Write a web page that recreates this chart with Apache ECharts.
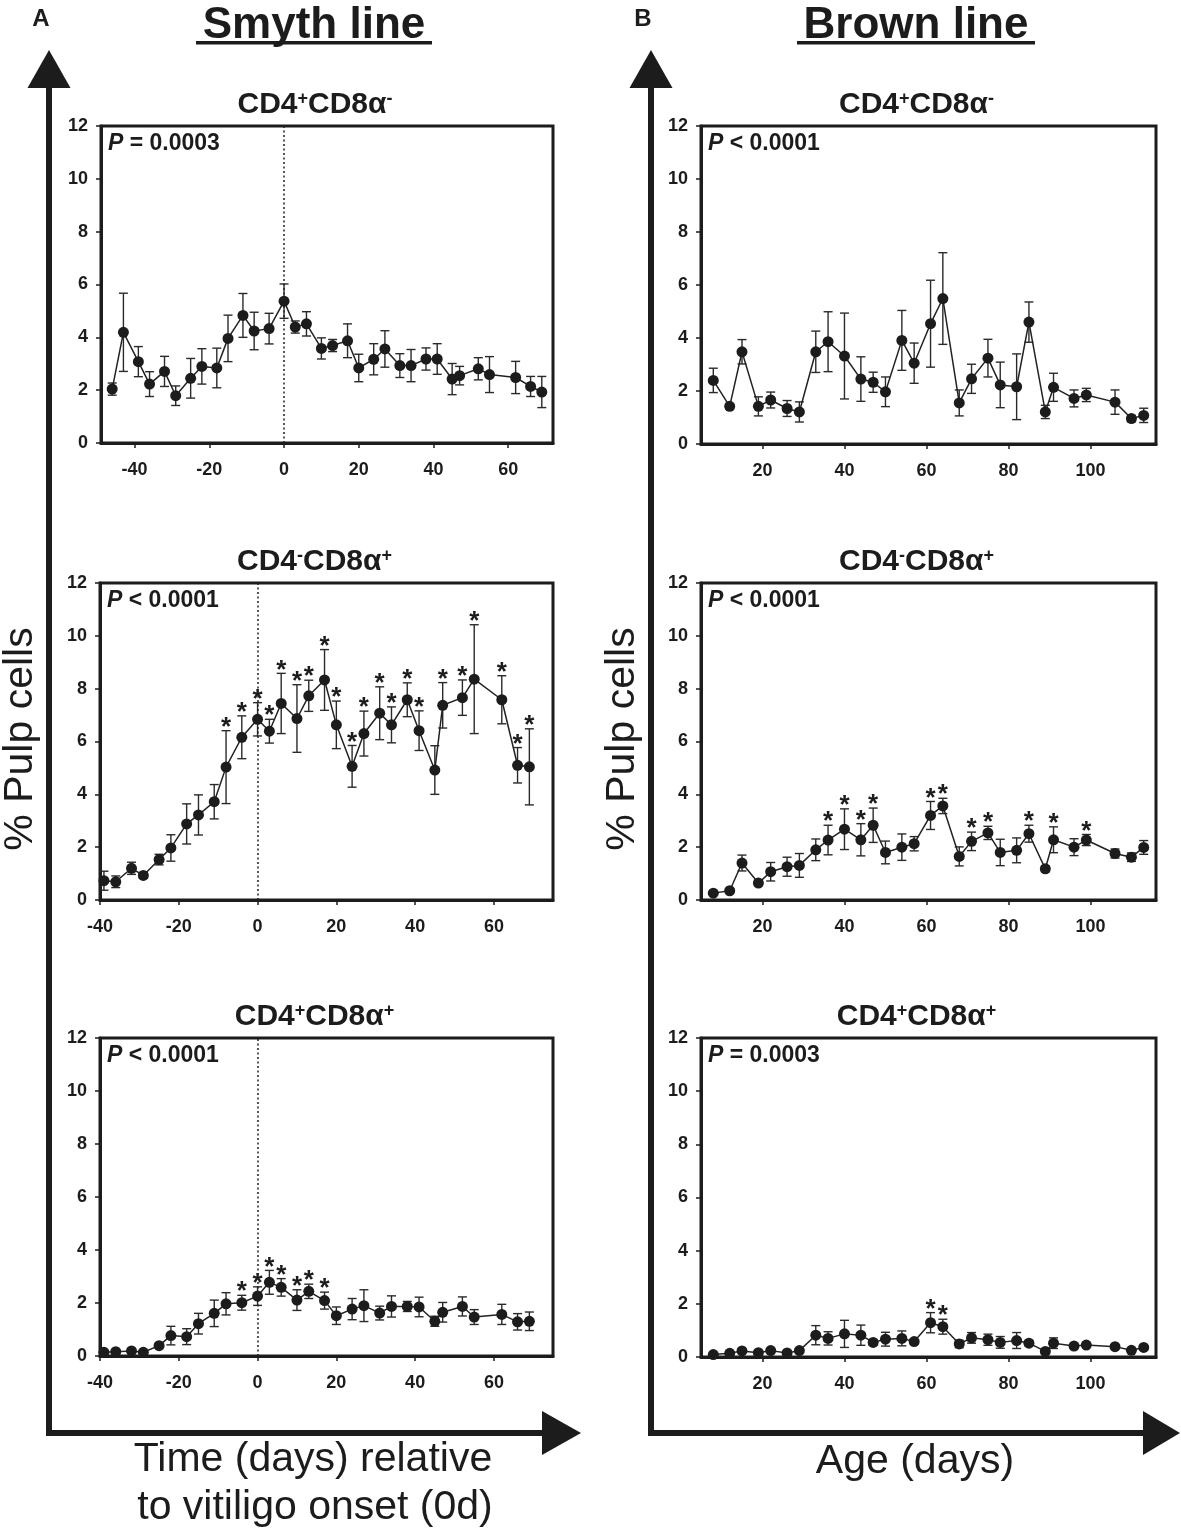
<!DOCTYPE html>
<html>
<head>
<meta charset="utf-8">
<script src="https://cdn.jsdelivr.net/npm/echarts@6.0.0/dist/echarts.min.js"></script>
<style>
  html, body { margin: 0; padding: 0; background: #ffffff; }
  #chart { width: 1181px; height: 1539px; }
</style>
</head>
<body>
<div id="chart"></div>
<script>
// ---------------- DATA ----------------
// Smyth line: days relative to vitiligo onset
const smythDaysTop = [-46,-43,-39,-36,-32,-29,-25,-22,-18,-15,-11,-8,-4,0,3,6,10,13,17,20,24,27,31,34,38,41,45,47,52,55,62,66,69];
const smythDays = [-39,-36,-32,-29,-25,-22,-18,-15,-11,-8,-4,0,3,6,10,13,17,20,24,27,31,34,38,41,45,47,52,55,62,66,69];

// CD4+CD8a- (Smyth)
const smythCD4Mean = [2.04,4.19,3.08,2.23,2.71,1.79,2.45,2.90,2.84,3.96,4.83,4.24,4.33,5.37,4.39,4.51,3.58,3.69,3.87,2.84,3.17,3.56,2.93,2.93,3.18,3.18,2.42,2.55,2.81,2.59,2.48,2.14,1.93];
const smythCD4Err  = [0.23,1.48,0.57,0.47,0.57,0.37,0.75,0.67,0.75,0.88,0.83,0.71,0.58,0.65,0.23,0.46,0.40,0.23,0.64,0.52,0.59,0.69,0.45,0.61,0.42,0.58,0.59,0.35,0.42,0.68,0.61,0.38,0.59];
const smythCD4Star = [0,0,0,0,0,0,0,0,0,0,0,0,0,0,0,0,0,0,0,0,0,0,0,0,0,0,0,0,0,0,0,0,0];

// CD4-CD8a+ (Smyth)
const smythCD8Mean = [0.73,0.69,1.20,0.93,1.53,1.97,2.88,3.22,3.72,5.03,6.16,6.84,6.39,7.44,6.87,7.73,8.33,6.63,5.06,6.30,7.07,6.63,7.58,6.41,4.92,7.37,7.66,8.36,7.58,5.10,5.04];
const smythCD8Err  = [0.36,0.22,0.23,0.11,0.20,0.50,0.76,0.76,0.65,1.38,0.81,0.63,0.45,1.14,1.28,0.59,1.15,0.90,0.79,0.85,1.00,0.68,0.64,0.75,0.92,0.86,0.67,2.06,0.91,0.67,1.44];
const smythCD8Star = [0,0,0,0,0,0,0,0,0,1,1,1,1,1,1,1,1,1,1,1,1,1,1,1,0,1,1,1,1,1,1];

// CD4+CD8a+ (Smyth)
const smythDPMean = [0.14,0.16,0.19,0.14,0.39,0.77,0.73,1.22,1.61,1.97,2.01,2.26,2.78,2.59,2.11,2.44,2.09,1.52,1.77,1.90,1.62,1.87,1.87,1.85,1.31,1.65,1.87,1.47,1.57,1.29,1.31];
const smythDPErr  = [0.05,0.05,0.05,0.05,0.06,0.35,0.30,0.39,0.50,0.42,0.28,0.35,0.45,0.33,0.39,0.27,0.32,0.33,0.40,0.60,0.26,0.40,0.19,0.37,0.19,0.37,0.36,0.28,0.38,0.31,0.35];
const smythDPStar = [0,0,0,0,0,0,0,0,0,0,1,1,1,1,1,1,1,0,0,0,0,0,0,0,0,0,0,0,0,0,0];

// Brown line: age in days
const brownAge = [8,12,15,19,22,26,29,33,36,40,44,47,50,54,57,61,64,68,71,75,78,82,85,89,91,96,99,106,110,113];

const brownCD4Mean = [2.40,1.42,3.48,1.42,1.66,1.34,1.21,3.48,3.86,3.32,2.45,2.33,1.97,3.91,3.05,4.54,5.49,1.55,2.46,3.24,2.23,2.16,4.60,1.21,2.14,1.72,1.85,1.58,0.96,1.08];
const brownCD4Err  = [0.46,0.10,0.46,0.36,0.30,0.30,0.38,0.78,1.13,1.62,0.84,0.38,0.56,1.13,0.76,1.64,1.73,0.49,0.55,0.71,0.86,1.24,0.76,0.25,0.53,0.32,0.25,0.46,0.12,0.27];
const brownCD4Star = [0,0,0,0,0,0,0,0,0,0,0,0,0,0,0,0,0,0,0,0,0,0,0,0,0,0,0,0,0,0];

const brownCD8Mean = [0.26,0.35,1.40,0.64,1.07,1.26,1.31,1.90,2.27,2.68,2.28,2.83,1.80,2.00,2.13,3.20,3.56,1.65,2.22,2.54,1.80,1.88,2.51,1.18,2.28,2.00,2.27,1.76,1.62,1.99];
const brownCD8Err  = [0.05,0.07,0.30,0.10,0.35,0.36,0.45,0.41,0.56,0.77,0.61,0.65,0.43,0.50,0.27,0.53,0.29,0.36,0.35,0.25,0.50,0.47,0.32,0.11,0.49,0.32,0.21,0.17,0.16,0.26];
const brownCD8Star = [0,0,0,0,0,0,0,0,1,1,1,1,0,0,0,1,1,0,1,1,0,0,1,0,1,0,1,0,0,0];

const brownDPMean = [0.09,0.14,0.23,0.16,0.24,0.15,0.24,0.82,0.70,0.87,0.82,0.55,0.67,0.70,0.58,1.29,1.14,0.49,0.72,0.65,0.55,0.62,0.52,0.21,0.52,0.41,0.45,0.39,0.25,0.36];
const brownDPErr  = [0.03,0.04,0.05,0.04,0.05,0.04,0.05,0.36,0.25,0.51,0.38,0.10,0.26,0.28,0.08,0.38,0.28,0.14,0.20,0.21,0.22,0.30,0.10,0.05,0.20,0.07,0.05,0.05,0.05,0.06];
const brownDPStar = [0,0,0,0,0,0,0,0,0,0,0,0,0,0,0,1,1,0,0,0,0,0,0,0,0,0,0,0,0,0];

// tick labels
const smythTicks = [-40,-20,0,20,40,60];
const brownTicks = [20,40,60,80,100];
const yTicks = [0,2,4,6,8,10,12];

// texts
const panelTitles = [
  ['CD4','+','CD8α','-'],
  ['CD4','-','CD8α','+'],
  ['CD4','+','CD8α','+']
];
const pTexts = ['= 0.0003','< 0.0001','< 0.0001','< 0.0001','< 0.0001','= 0.0003'];

// ---------------- LAYOUT / STYLE ----------------
const FONT = '"Liberation Sans", Arial, Helvetica, sans-serif';
const INK = '#1c1c1c';

const panels = [
  { grid:{left:101, top:126, width:452, height:317}, min:-49, max:72, ticks:smythTicks, x:smythDaysTop, m:smythCD4Mean, e:smythCD4Err, s:smythCD4Star, onset:true,  t:0, p:0 },
  { grid:{left:100, top:583, width:453, height:317}, min:-40, max:75, ticks:smythTicks, x:smythDays,    m:smythCD8Mean, e:smythCD8Err, s:smythCD8Star, onset:true,  t:1, p:1 },
  { grid:{left:100, top:1038,width:453, height:318}, min:-40, max:75, ticks:smythTicks, x:smythDays,    m:smythDPMean,  e:smythDPErr,  s:smythDPStar,  onset:true,  t:2, p:2 },
  { grid:{left:701, top:126, width:455, height:318}, min:5,   max:116, ticks:brownTicks, x:brownAge,    m:brownCD4Mean, e:brownCD4Err, s:brownCD4Star, onset:false, t:0, p:3 },
  { grid:{left:701, top:583, width:455, height:317}, min:5,   max:116, ticks:brownTicks, x:brownAge,    m:brownCD8Mean, e:brownCD8Err, s:brownCD8Star, onset:false, t:1, p:4 },
  { grid:{left:701, top:1038,width:455, height:319}, min:5,   max:116, ticks:brownTicks, x:brownAge,    m:brownDPMean,  e:brownDPErr,  s:brownDPStar,  onset:false, t:2, p:5 }
];

function errRender(params, api) {
  const x = api.value(0), y = api.value(1), e = api.value(2), star = api.value(3);
  const top = api.coord([x, y + e]);
  const bot = api.coord([x, Math.max(0, y - e)]);
  const hw = 4.5;
  const st = { stroke: '#2a2a2a', lineWidth: 1.4 };
  const children = [
    { type:'line', shape:{x1:top[0], y1:top[1], x2:bot[0], y2:bot[1]}, style: st },
    { type:'line', shape:{x1:top[0]-hw, y1:top[1], x2:top[0]+hw, y2:top[1]}, style: st },
    { type:'line', shape:{x1:bot[0]-hw, y1:bot[1], x2:bot[0]+hw, y2:bot[1]}, style: st }
  ];
  if (star) {
    children.push({ type:'text', style:{ text:'*', x: top[0], y: top[1] - 3, align:'center', verticalAlign:'middle',
      font: 'bold 26px ' + FONT, fill: INK } });
  }
  return { type:'group', children };
}

const grids = [], xAxes = [], yAxes = [], series = [], graphics = [];

panels.forEach((pn, i) => {
  grids.push(Object.assign({ show:true, borderColor: INK, borderWidth: 3, backgroundColor:'transparent', containLabel:false }, pn.grid));
  xAxes.push({
    type:'value', gridIndex:i, min:pn.min, max:pn.max,
    axisLine:{ show:true, onZero:false, lineStyle:{ color: INK, width: 3 } },
    axisTick:{ show:true, customValues: pn.ticks, length:5, lineStyle:{ color: INK, width: 1.5 } },
    axisLabel:{ show:true, customValues: pn.ticks, margin: 18, fontSize: 18, fontWeight:'bold', color: INK, fontFamily: FONT },
    splitLine:{ show:false }
  });
  yAxes.push({
    type:'value', gridIndex:i, min:0, max:12, interval:2,
    axisLine:{ show:true, onZero:false, lineStyle:{ color: INK, width: 3 } },
    axisTick:{ show:true, length:5, lineStyle:{ color: INK, width: 1.5 } },
    axisLabel:{ show:true, margin: 13, fontSize: 18, fontWeight:'bold', color: INK, fontFamily: FONT,
      formatter: v => (yTicks.indexOf(v) >= 0 ? String(v) : '') },
    splitLine:{ show:false }
  });
  const lineData = pn.x.map((d, k) => [d, pn.m[k]]);
  const errData = pn.x.map((d, k) => [d, pn.m[k], pn.e[k], pn.s[k]]);
  series.push({
    type:'custom', xAxisIndex:i, yAxisIndex:i, renderItem: errRender, data: errData, z: 2, silent: true,
    encode:{ x:0, y:1 }
  });
  const ls = {
    type:'line', xAxisIndex:i, yAxisIndex:i, data: lineData, z: 3,
    symbol:'circle', symbolSize: 11, showSymbol:true,
    itemStyle:{ color: INK },
    lineStyle:{ color: '#222', width: 1.5 },
    silent:true
  };
  if (pn.onset) {
    ls.markLine = { silent:true, symbol:['none','none'], label:{ show:false },
      lineStyle:{ type:[2,2.5], color:'#222', width:1.5 }, data:[{ xAxis: 0 }], animation:false };
  }
  series.push(ls);

  // panel subtitle
  const cx = pn.grid.left + pn.grid.width / 2 - 12;
  const tt = panelTitles[pn.t];
  graphics.push({
    type:'text', x: cx, y: pn.grid.top - 21,
    style:{ text: '{m|' + tt[0] + '}{s|' + tt[1] + '}{m|' + tt[2] + '}{s|' + tt[3] + '}',
      align:'center', verticalAlign:'middle',
      rich:{ m:{ fontSize:30, fontWeight:'bold', fontFamily:FONT, fill:INK },
             s:{ fontSize:18, fontWeight:'bold', fontFamily:FONT, fill:INK, verticalAlign:'top' } } }
  });
  // P value
  graphics.push({
    type:'text', x: pn.grid.left + 7, y: pn.grid.top + 18,
    style:{ text: '{i|P}{n| ' + pTexts[pn.p] + '}', align:'left', verticalAlign:'middle',
      rich:{ i:{ fontSize:23, fontWeight:'bold', fontStyle:'italic', fontFamily:FONT, fill:INK },
             n:{ fontSize:23, fontWeight:'bold', fontFamily:FONT, fill:INK } } }
  });
});

// Big frame arrows and headings
[[49, 'A', 314, 'Smyth line', 196, 432], [651, 'B', 916, 'Brown line', 797, 1035]].forEach(h => {
  const ax = h[0];
  graphics.push({ type:'text', x: ax - 8, y: 19, style:{ text:h[1], align:'center', verticalAlign:'middle', font:'bold 24px ' + FONT, fill:INK } });
  graphics.push({ type:'text', x: h[2], y: 26, style:{ text:h[3], align:'center', verticalAlign:'middle', font:'bold 44px ' + FONT, fill:INK } });
  graphics.push({ type:'rect', shape:{ x:h[4], y:41, width:h[5]-h[4], height:3.5 }, style:{ fill:INK } });
  graphics.push({ type:'rect', shape:{ x:ax-3, y:82, width:6, height:1354 }, style:{ fill:INK } });
  graphics.push({ type:'polygon', shape:{ points:[[ax,50],[ax-21.5,88],[ax+21.5,88]] }, style:{ fill:INK } });
  graphics.push({ type:'text', x: ax - 28, y: 739, rotation: Math.PI/2,
    style:{ text:'% Pulp cells', align:'center', verticalAlign:'middle', font:'41px ' + FONT, fill:INK } });
});
// horizontal arrows
graphics.push({ type:'rect', shape:{ x:46, y:1430, width:500, height:6 }, style:{ fill:INK } });
graphics.push({ type:'polygon', shape:{ points:[[581,1433],[542,1411],[542,1455]] }, style:{ fill:INK } });
graphics.push({ type:'rect', shape:{ x:648, y:1430, width:500, height:6 }, style:{ fill:INK } });
graphics.push({ type:'polygon', shape:{ points:[[1180,1433],[1143,1411],[1143,1455]] }, style:{ fill:INK } });
// axis titles
graphics.push({ type:'text', x:313, y:1460, style:{ text:'Time (days) relative', align:'center', verticalAlign:'middle', font:'41px ' + FONT, fill:INK } });
graphics.push({ type:'text', x:315, y:1508, style:{ text:'to vitiligo onset (0d)', align:'center', verticalAlign:'middle', font:'41px ' + FONT, fill:INK } });
graphics.push({ type:'text', x:915, y:1462, style:{ text:'Age (days)', align:'center', verticalAlign:'middle', font:'41px ' + FONT, fill:INK } });

const chart = echarts.init(document.getElementById('chart'), null, { renderer:'canvas' });
chart.setOption({
  backgroundColor:'#ffffff',
  animation:false,
  textStyle:{ fontFamily: FONT },
  grid: grids,
  xAxis: xAxes,
  yAxis: yAxes,
  series: series,
  graphic: { elements: graphics }
});
</script>
</body>
</html>
